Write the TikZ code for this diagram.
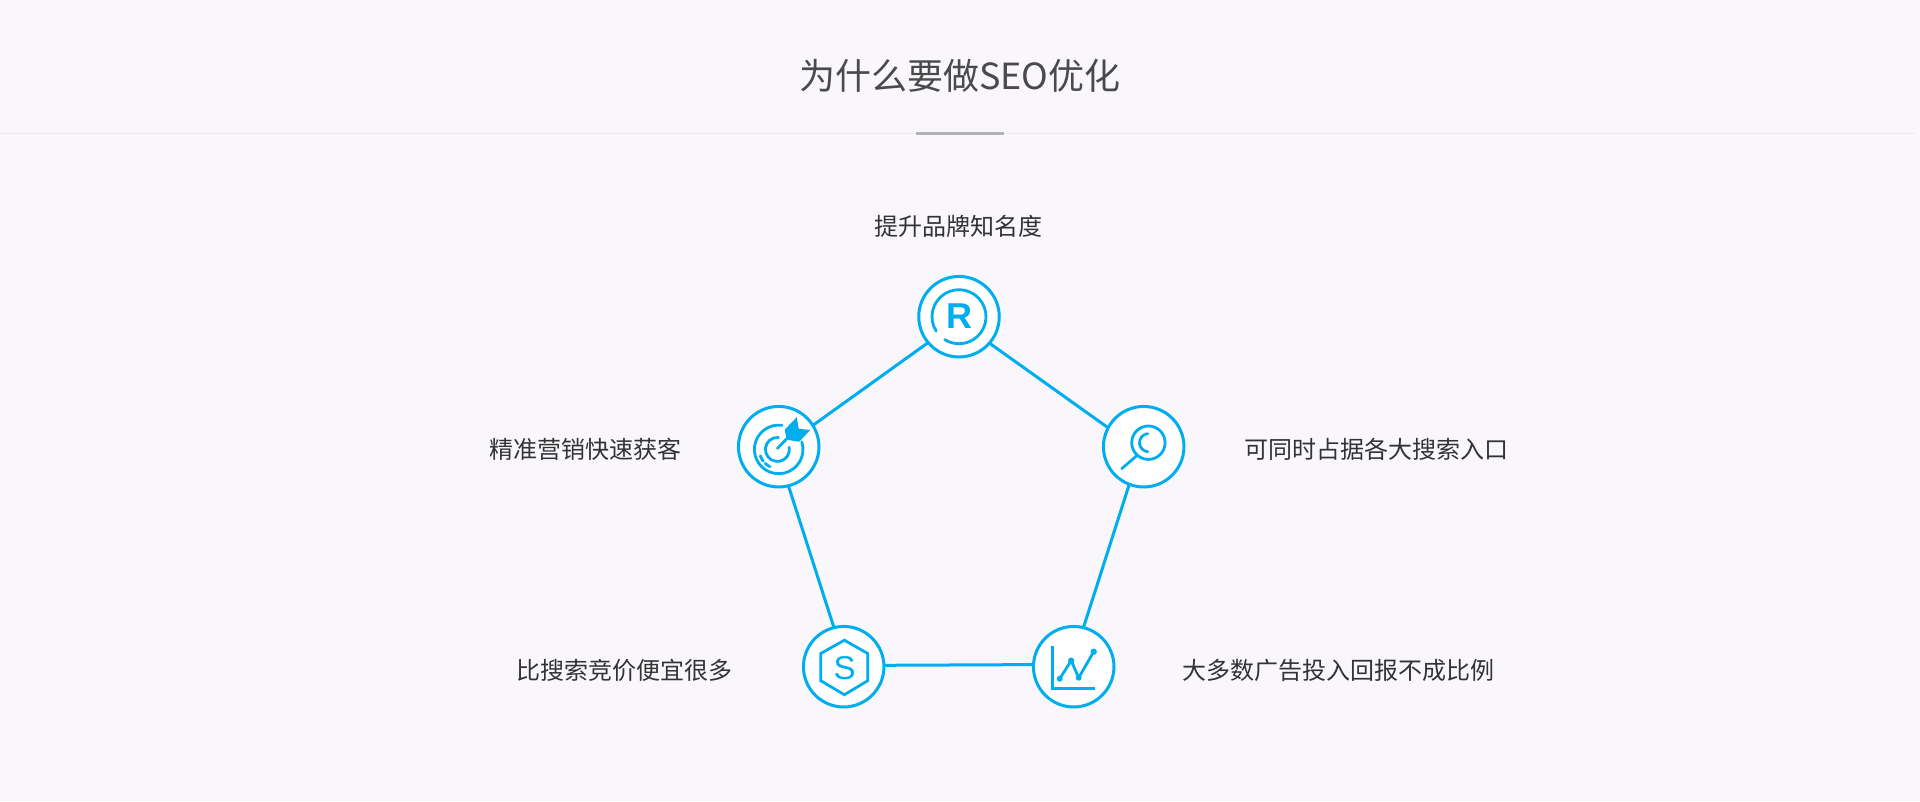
\documentclass[tikz,border=0pt]{standalone}
\usepackage{fontspec}
\setmainfont{Liberation Sans}
\newfontfamily\cjk{Noto Sans CJK SC}
\definecolor{bgc}{HTML}{F9F7FB}
\definecolor{blu}{HTML}{00AEEF}
\definecolor{ttl}{HTML}{4A4A4A}
\definecolor{lbl}{HTML}{333333}
\tikzset{
  hub/.style={circle,draw=blu,line width=3pt,fill=white,minimum size=80.5pt,inner sep=0pt,outer sep=0pt},
  link/.style={draw=blu,line width=3pt},
  ico/.style={draw=blu,line width=2.8pt,line cap=round,line join=round},
  lab/.style={font=\cjk\fontsize{24}{24}\selectfont,text=lbl,inner sep=0pt},
}
\begin{document}
\begin{tikzpicture}[x=1pt,y=-1pt]
\useasboundingbox (0,0) rectangle (1920,801);
\fill[bgc] (0,0) rectangle (1920,801);
\draw[color=black!8,line width=1pt] (0,133) -- (1915,133);
\fill[color=black!30] (916,132) rectangle (1004,135);
\node[font=\cjk\fontsize{36}{36}\selectfont,text=ttl,inner sep=0pt] (title) at (960,76) {为什么要做SEO优化};
\node[hub] (r) at (959,316.7) {};
\node[hub] (k) at (1143.7,446.7) {};
\node[hub] (c) at (1073.7,666.7) {};
\node[hub] (s) at (843.7,666.7) {};
\node[hub] (t) at (778.7,446.7) {};
\draw[link] (r.-41) -- (k.152.8);
\draw[link] (k.-111.5) -- (c.76.5);
\draw[link] (c.177.7) -- (s.2.3);
\draw[link] (s.104.6) -- (t.-76.7);
\draw[link] (t.32) -- (r.220.5);
\node[lab] (l1) at (958,226.5) {提升品牌知名度};
\node[lab] (l2) at (1376,449) {可同时占据各大搜索入口};
\node[lab] (l3) at (1338,670) {大多数广告投入回报不成比例};
\node[lab] (l4) at (624,670) {比搜索竞价便宜很多};
\node[lab] (l5) at (585,449) {精准营销快速获客};
% R icon
\begin{scope}[shift={(r.center)}]
  \draw[ico] (148:27) arc[start angle=148,end angle=482,radius=27];
  \node[font=\bfseries\fontsize{36}{36}\selectfont,text=blu,draw=blu,line width=0.6pt,draw opacity=0,inner sep=0pt] (rr) at (0,-1) {R};
\end{scope}
% search icon
\begin{scope}[shift={(k.center)}]
  \draw[ico] (4.7,-4) circle[radius=16.7];
  \draw[ico] (-7,9) -- (-22,22);
  \draw[ico] (4,-13) arc[start angle=-95,end angle=-265,radius=9];
\end{scope}
% chart icon
\begin{scope}[shift={(c.center)}]
  \draw[ico,line cap=butt,line join=miter] (-21,-21) -- (-21,21.5) -- (21.5,21.5);
  \draw[ico] (-14,12) -- (-2.5,-6) -- (5,11) -- (20,-15);
  \fill[blu] (-14,12) circle[radius=3] (-2.5,-6) circle[radius=3.2] (5,11) circle[radius=3] (20,-15) circle[radius=3.2];
\end{scope}
% S icon
\begin{scope}[shift={(s.center)}]
  \draw[ico,line cap=butt,line join=miter] (0.7,-26.5) -- (24,-13.2) -- (24,14) -- (0.7,28) -- (-23,14) -- (-23,-13.2) -- cycle;
  \node[font=\fontsize{33}{33}\selectfont,text=blu,inner sep=0pt] (ss) at (1,1) {S};
\end{scope}
% target icon
\begin{scope}[shift={(t.center)}]
  \begin{scope}[shift={(0,2.7)}]
    \draw[ico] (-82:24.3) arc[start angle=-82,end angle=-378,radius=24.3];
    \draw[ico] (161:19.4) arc[start angle=161,end angle=143,radius=19.4];
    \draw[ico] (134:19.4) arc[start angle=134,end angle=117,radius=19.4];
  \end{scope}
  \begin{scope}[shift={(-1.3,2.7)}]
    \draw[ico] (-85:12) arc[start angle=-85,end angle=-370,radius=12];
  \end{scope}
  \draw[ico] (-1.3,1.7) -- (10,-10);
  \fill[blu] (6,-17) -- (18,-29.5) -- (20,-18) -- (31.5,-16.7) -- (20.5,-5) -- (8,-7) -- cycle;
\end{scope}
\end{tikzpicture}
\end{document}
